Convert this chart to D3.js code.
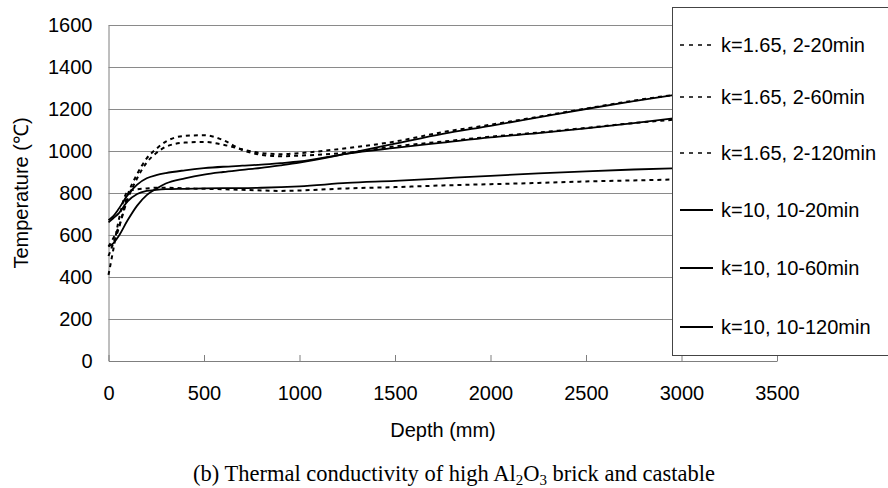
<!DOCTYPE html>
<html>
<head>
<meta charset="utf-8">
<script src="https://cdn.jsdelivr.net/npm/d3@7"></script>
<style>
  body{margin:0;background:#fff;}
  svg{display:block;}
  text{font-family:Arial,"Liberation Sans",sans-serif;fill:#000;}
</style>
</head>
<body>
<div id="stage"></div>
<script>

// depth points (mm)
var depths=[0,25,50,100,150,200,250,300,400,500,600,700,800,900,1000,1250,1500,1750,2000,2250,2500,2750,3000];

// k=1.65 (dashed)
var d20 =[410,530,655,805,818,822,825,825,822,820,818,815,812,810,812,822,828,836,842,848,855,860,865];
var d60 =[500,560,620,790,890,965,1010,1045,1072,1075,1052,1005,982,975,978,992,1022,1045,1068,1088,1110,1133,1152];
var d120=[545,585,630,770,870,945,990,1020,1040,1043,1030,1008,990,985,990,1014,1045,1090,1125,1163,1202,1240,1272];
// k=10 (solid)
var s20 =[660,680,700,760,795,810,815,818,820,822,823,823,825,828,832,848,858,870,882,893,903,912,919];
var s60 =[670,690,720,790,840,870,885,895,908,918,925,930,935,942,950,988,1015,1040,1065,1085,1108,1133,1160];
var s120=[545,560,590,670,740,790,820,845,870,888,900,910,920,932,945,988,1035,1082,1120,1160,1200,1238,1272];

var seriesNames=["k=1.65, 2-20min","k=1.65, 2-60min","k=1.65, 2-120min","k=10, 10-20min","k=10, 10-60min","k=10, 10-120min"];
var seriesData=[d20,d60,d120,s20,s60,s120];
var dashed=[true,true,true,false,false,false];

var yTicks=[0,200,400,600,800,1000,1200,1400,1600];
var xTicks=[0,500,1000,1500,2000,2500,3000,3500];

var W=888,H=488;

var svg=d3.select("#stage").append("svg")
  .attr("width",W).attr("height",H);

svg.append("rect").attr("width",W).attr("height",H).attr("fill","#fff");

var x=d3.scaleLinear().domain([0,3500]).range([108.5,777]);
var y=d3.scaleLinear().domain([0,1600]).range([361,25]);

// y axis with gridlines
var gy=svg.append("g").attr("transform","translate(108.5,0)")
  .call(d3.axisLeft(y).tickValues(yTicks).tickFormat(d3.format("d"))
    .tickSizeInner(-(777-108.5)).tickSizeOuter(0).tickPadding(16));
gy.select(".domain").attr("stroke","#7f7f7f");
gy.selectAll(".tick line").attr("stroke","#8a8a8a").attr("stroke-width",1);
gy.selectAll(".tick").filter(function(d){return d==0}).select("line").remove();
gy.selectAll("text").attr("font-size",20).attr("font-family","Arial, 'Liberation Sans', sans-serif").attr("fill","#000");

// x axis
var gx=svg.append("g").attr("transform","translate(0,361)")
  .call(d3.axisBottom(x).tickValues(xTicks).tickFormat(d3.format("d"))
    .tickSizeInner(-6).tickSizeOuter(0).tickPadding(25));
gx.select(".domain").attr("stroke","#7f7f7f");
gx.selectAll(".tick line").attr("stroke","#7f7f7f");
gx.selectAll("text").attr("font-size",20).attr("font-family","Arial, 'Liberation Sans', sans-serif").attr("fill","#000");

// curves
var line=d3.line()
  .x(function(d,i){return x(depths[i])})
  .y(function(d){return y(d)})
  .curve(d3.curveMonotoneX);

seriesData.forEach(function(s,i){
  svg.append("path")
    .attr("d",line(s))
    .attr("fill","none")
    .attr("stroke","#000")
    .attr("stroke-width",dashed[i]?2:1.8)
    .attr("stroke-dasharray",dashed[i]?"4,4":null);
});

// legend
var lg=svg.append("g");
lg.append("rect")
  .attr("x",672.5).attr("y",7.5).attr("width",240).attr("height",348)
  .attr("fill","#fff").attr("stroke","#444").attr("stroke-width",1);
var rowY=[45,97,153,210,268,327];
seriesNames.forEach(function(n,i){
  lg.append("line")
    .attr("x1",680).attr("x2",713).attr("y1",rowY[i]).attr("y2",rowY[i])
    .attr("stroke","#000")
    .attr("stroke-width",dashed[i]?1.4:2)
    .attr("stroke-dasharray",dashed[i]?"4,5":null);
  lg.append("text")
    .attr("x",721).attr("y",rowY[i]).attr("dy","0.35em")
    .attr("font-size",20)
    .text(n);
});

// axis titles
svg.append("text")
  .attr("x",443).attr("y",437)
  .attr("text-anchor","middle").attr("font-size",20)
  .text("Depth (mm)");

svg.append("text")
  .attr("transform","translate(28,193) rotate(-90)")
  .attr("text-anchor","middle").attr("font-size",20)
  .text("Temperature (℃)");

// caption
var cap=svg.append("text")
  .attr("x",454).attr("y",481)
  .attr("text-anchor","middle").attr("font-size",22.5)
  .style("font-family","'Times New Roman','Liberation Serif',serif");
cap.append("tspan").text("(b) Thermal conductivity of high Al");
cap.append("tspan").attr("font-size",15).attr("dy",4).text("2");
cap.append("tspan").attr("dy",-4).text("O");
cap.append("tspan").attr("font-size",15).attr("dy",4).text("3");
cap.append("tspan").attr("dy",-4).text(" brick and castable");

</script>
</body>
</html>
